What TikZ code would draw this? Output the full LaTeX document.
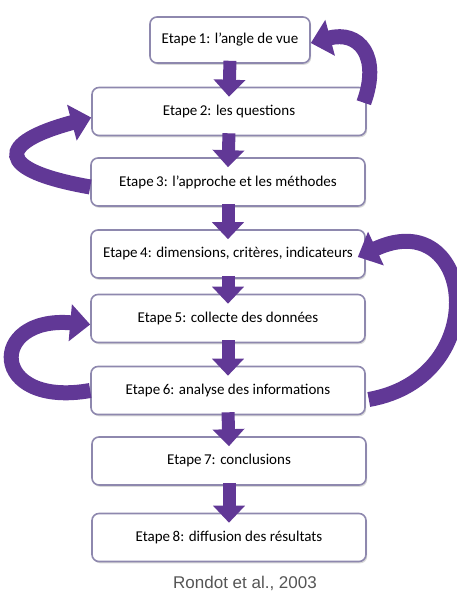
\documentclass[tikz,border=0pt]{standalone}
\usepackage{fontspec}
\usepackage{tikz}
\usetikzlibrary{arrows.meta,shadows}
\newfontfamily\stepfont{Carlito}
\newfontfamily\capfont{Liberation Sans}
\definecolor{stepPurple}{HTML}{613896}
\definecolor{stepBorder}{HTML}{8E88AE}
\definecolor{capGray}{HTML}{555555}

\begin{document}
\begin{tikzpicture}[
    x=1pt,y=1pt,
    every node/.style={font=\stepfont\fontsize{15}{18}\selectfont},
    stepbox/.style={rectangle,draw=stepBorder,fill=white,line width=1.6pt,rounded corners=7pt,
                    minimum width=274pt,minimum height=48pt,inner sep=0pt,
                    drop shadow={shadow xshift=1.2pt,shadow yshift=-1.8pt,opacity=0.3}},
    down/.style={draw=stepPurple,line width=13pt,-{Triangle[width=31pt,length=17pt]}},
    back/.style={draw=stepPurple,line width=15pt,-{Triangle[width=36pt,length=20pt]}},
    srcnote/.style={font=\capfont\fontsize{17}{20}\selectfont,text=capGray}
  ]
  \useasboundingbox (0,0) rectangle (456,595);
  %% the eight steps
  \node[stepbox,minimum width=160pt,minimum height=46pt] (s1) at (230,555) {Etape\,1: l’angle de vue};
  \node[stepbox] (s2) at (229,483.5) {Etape\,2: les questions};
  \node[stepbox] (s3) at (228,413)   {Etape\,3: l’approche et les méthodes};
  \node[stepbox] (s4) at (228,341)   {Etape\,4: dimensions, critères, indicateurs};
  \node[stepbox] (s5) at (228,276.5) {Etape\,5: collecte des données};
  \node[stepbox] (s6) at (228,204.5) {Etape\,6: analyse des informations};
  \node[stepbox] (s7) at (229,134)   {Etape\,7: conclusions};
  \node[stepbox] (s8) at (229,57.5)  {Etape\,8: diffusion des résultats};
  \node[srcnote] (src) at (245,12) {Rondot et al., 2003};
  %% straight arrows down
  \foreach \a/\b in {s1/s2,s2/s3,s3/s4,s4/s5,s5/s6,s6/s7,s7/s8}
    \draw[down] ([yshift=3pt]\a.south) -- ([yshift=-10pt]\b.north);
  %% feedback loops
  \draw[back] ([xshift=-3pt,yshift=-16pt]s2.north east) to[out=70,in=15,looseness=1.6] ([yshift=-3pt]s1.east);
  \draw[back] ([yshift=-5pt]s3.west) to[out=170,in=195,looseness=3.6] ([yshift=-6pt]s2.west);
  \draw[back] ([xshift=3pt,yshift=-9pt]s6.east) to[out=10,in=25,looseness=2.3] ([xshift=-8pt,yshift=-3pt]s4.east);
  \draw[back] ([yshift=0pt]s6.west) to[out=190,in=175,looseness=4] ([yshift=-6pt]s5.west);
\end{tikzpicture}
\end{document}
